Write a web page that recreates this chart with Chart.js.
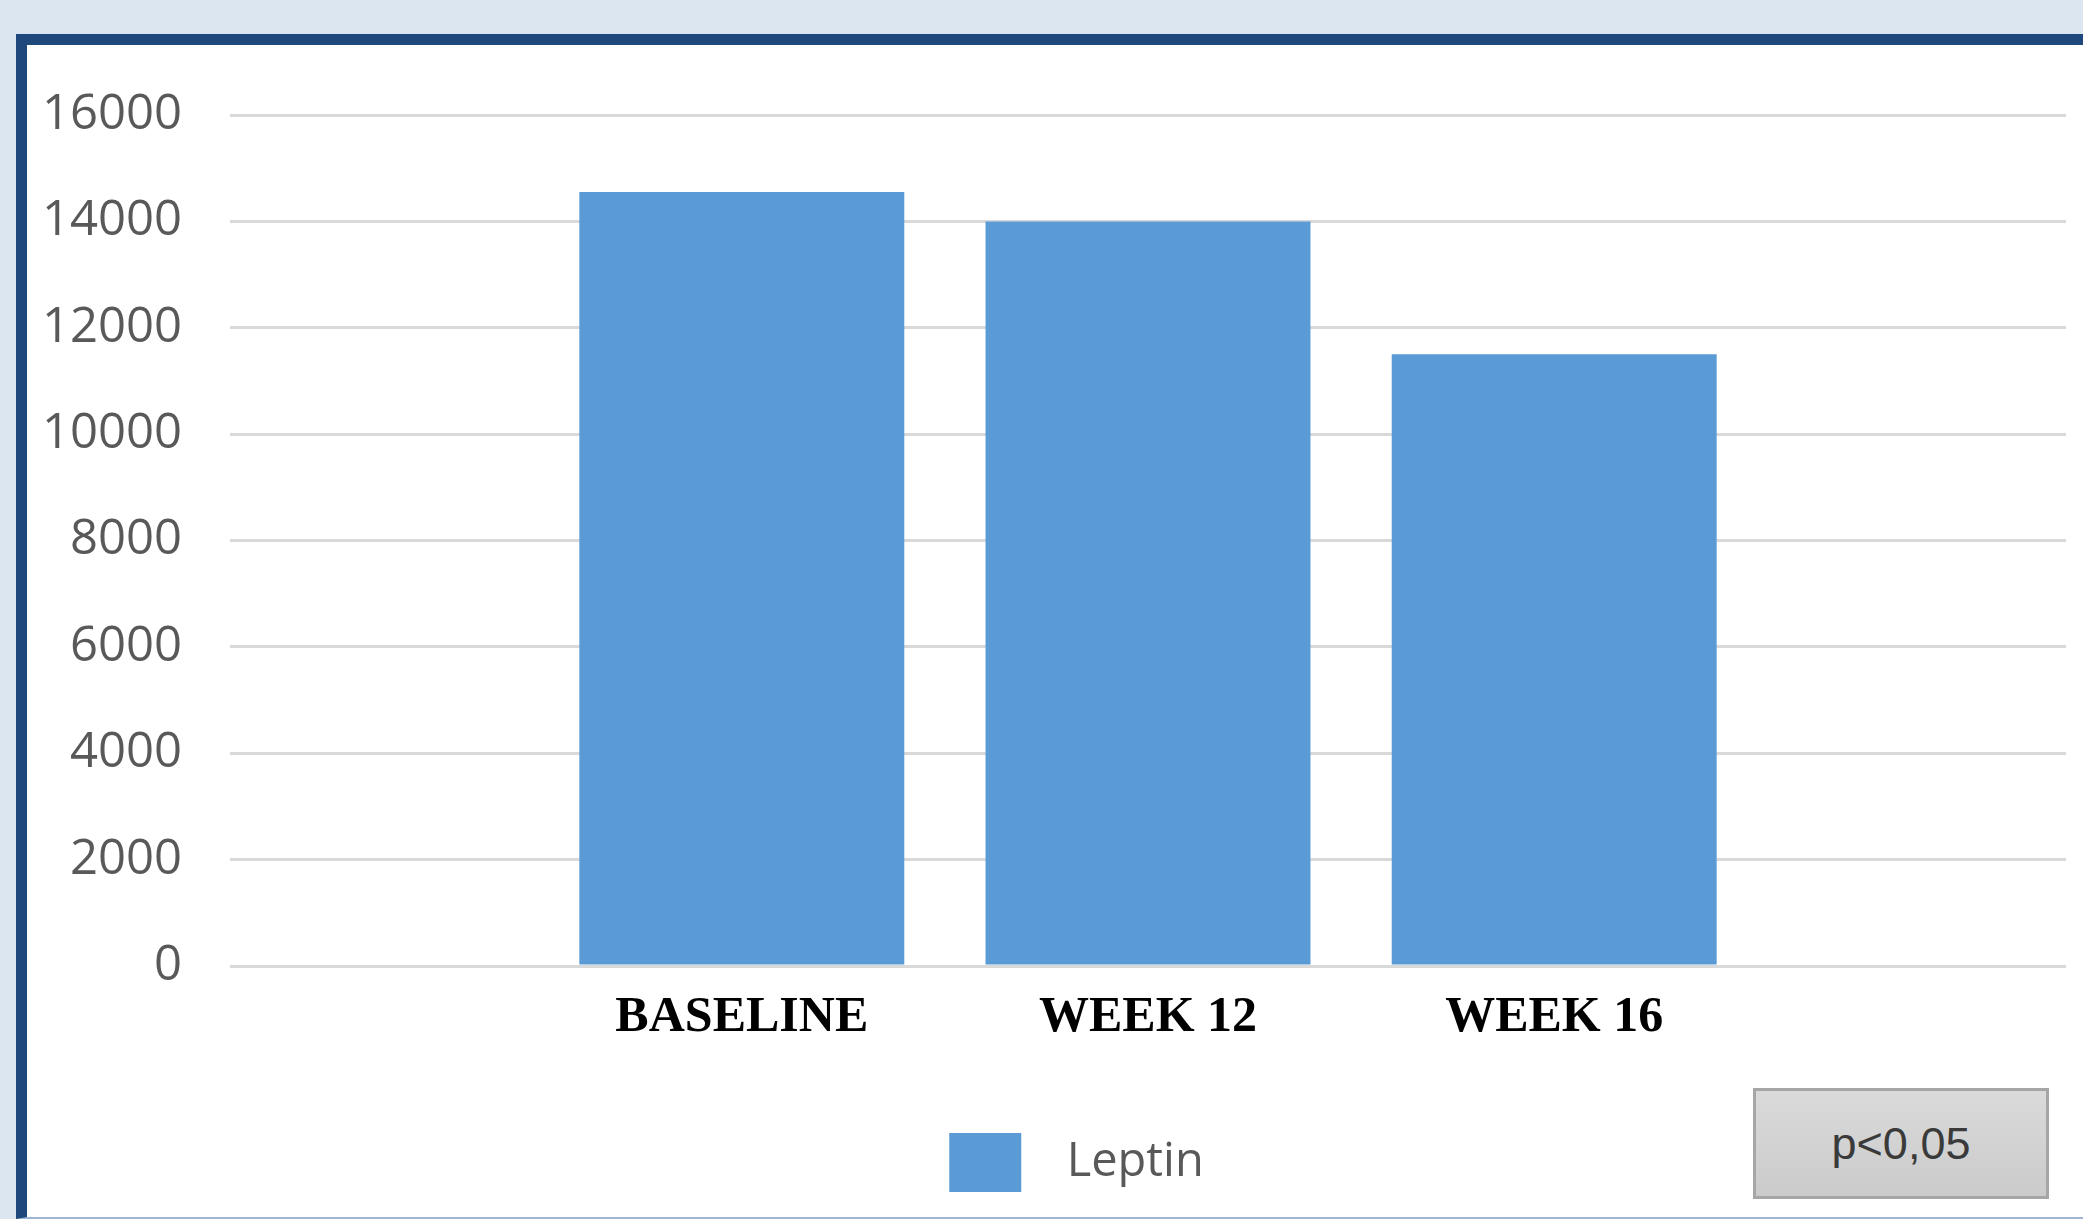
<!DOCTYPE html>
<html>
<head>
<meta charset="utf-8">
<script src="https://cdn.jsdelivr.net/npm/chart.js@4/dist/chart.umd.min.js"></script>
<style>
  html, body { margin: 0; padding: 0; }
  body { width: 2083px; height: 1219px; background: #dce6f1; position: relative; overflow: hidden; }
  #frame {
    position: absolute; left: 16px; top: 34px; right: 0; bottom: 0;
    background: #fff;
    border-left: 11px solid #1f497d; border-top: 11px solid #1f497d;
    border-bottom: 2px solid #9db6d6;
  }
  #wrap { position: absolute; left: 0; top: 0; width: 2056px; height: 1170px; }
  #pval {
    position: absolute; left: 1753px; top: 1088px; width: 290px; height: 105px;
    border: 3px solid #a6a6a6;
    background: linear-gradient(#dadada, #cbcbcb);
    display: flex; align-items: center; justify-content: center;
    font-family: "Liberation Sans", Arial, sans-serif; font-size: 45px; color: #3a3a3a;
  }
</style>
</head>
<body>
<div id="frame">
  <div id="wrap"><canvas id="leptin-chart"></canvas></div>
</div>
<div id="pval">p&lt;0,05</div>
<script>
const categories = ["BASELINE", "WEEK 12", "WEEK 16"];
const leptin = [14550, 14000, 11500];
const yTicks = [0, 2000, 4000, 6000, 8000, 10000, 12000, 14000, 16000];

const points = categories.map((c, i) => ({ x: i + 1, y: leptin[i] }));

// legend swatch: blue square, blank room on both sides to place it like the original
const swatch = document.createElement("canvas");
swatch.width = 142;
swatch.height = 59;
const sctx = swatch.getContext("2d");
sctx.fillStyle = "#5b9bd5";
sctx.fillRect(48, 0, 72, 59);

new Chart(document.getElementById("leptin-chart"), {
  type: "bar",
  data: {
    datasets: [
      {
        label: "Leptin",
        data: points,
        backgroundColor: "#5b9bd5",
        borderWidth: 0,
        categoryPercentage: 0.8,
        barPercentage: 1,
      },
    ],
  },
  options: {
    responsive: true,
    maintainAspectRatio: false,
    animation: false,
    layout: { padding: { top: 70, left: 12, right: 17, bottom: 19 } },
    scales: {
      x: {
        type: "linear",
        offset: false,
        min: -0.26,
        max: 4.26,
        afterBuildTicks: (scale) => {
          scale.ticks = categories.map((c, i) => ({ value: i + 1 }));
        },
        afterFit: (scale) => {
          scale.height = 163;
        },
        grid: { display: false },
        border: { display: false },
        ticks: {
          padding: 14,
          color: "#000",
          font: { family: "Liberation Serif", weight: "bold", size: 50 },
          callback: (v) => categories[v - 1],
        },
      },
      y: {
        min: 0,
        max: 16000,
        afterBuildTicks: (scale) => {
          scale.ticks = yTicks.map((v) => ({ value: v }));
        },
        afterFit: (scale) => {
          scale.width = 191;
        },
        grid: {
          color: "#d9d9d9",
          lineWidth: 3,
          drawTicks: true,
          tickLength: 48,
          tickColor: "rgba(0,0,0,0)",
        },
        border: { display: false },
        ticks: {
          padding: 0,
          color: "#595959",
          font: { family: "Open Sans", size: 49 },
          callback: (v) => String(v),
        },
      },
    },
    plugins: {
      legend: {
        position: "bottom",
        labels: {
          usePointStyle: true,
          pointStyle: swatch,
          pointStyleWidth: 142,
          padding: 10,
          color: "#595959",
          font: { family: "Open Sans", size: 47 },
        },
      },
      tooltip: { enabled: false },
    },
  },
});
</script>
</body>
</html>
